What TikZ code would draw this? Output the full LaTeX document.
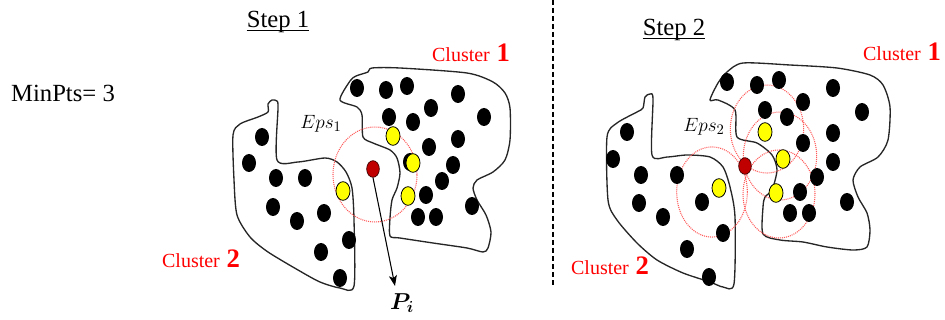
\documentclass[tikz,border=0pt]{standalone}
\usepackage{amsmath,bm}
\usepackage{fontspec}
\setmainfont{Liberation Serif}
\usetikzlibrary{shapes.geometric,arrows.meta}
\definecolor{darkred}{RGB}{192,0,0}
\definecolor{dotyellow}{RGB}{255,255,0}
\definecolor{labred}{RGB}{255,0,0}
\begin{document}
\begin{tikzpicture}[x=0.75pt,y=-0.75pt,
  bdot/.style={ellipse, fill=black, inner sep=0pt, minimum width=10.5pt, minimum height=13.5pt},
  ydot/.style={ellipse, fill=dotyellow, draw=black, line width=0.6pt, inner sep=0pt, minimum width=10.5pt, minimum height=14pt},
  rdot/.style={ellipse, fill=darkred, draw=black!70!darkred, line width=0.5pt, inner sep=0pt, minimum width=9.5pt, minimum height=12.5pt},
  outline/.style={line width=1pt, black!85, smooth cycle, tension=0.45},
  epscirc/.style={draw=red!65, line width=0.8pt, dash pattern=on 0.75pt off 0.75pt},
  steplbl/.style={font=\fontsize{18.5}{20}\selectfont},
  clab/.style={text=labred, font=\fontsize{15}{17}\selectfont},
  epslbl/.style={font=\fontsize{15.5}{17}\selectfont},
  uline/.style={line width=0.8pt}
]
\useasboundingbox (0,0) rectangle (945,320);

% texts
\node[steplbl] (minpts) at (63,93) {MinPts= 3};
\node[steplbl, inner sep=0pt] (step1) at (278,22) {Step 1};
\draw[uline] ([yshift=-2.2pt]step1.base west) -- ([yshift=-2.2pt]step1.base east);
\node[steplbl, inner sep=0pt] (step2) at (674,30) {Step 2};
\draw[uline] ([yshift=-2.2pt]step2.base west) -- ([yshift=-2.2pt]step2.base east);
\node[clab] (c1a) at (471,53) {Cluster\,\,{\bfseries\fontsize{20}{20}\selectfont 1}};
\node[clab] (c2a) at (201,259) {Cluster\,\,{\bfseries\fontsize{20}{20}\selectfont 2}};
\node[clab] (c1b) at (902,52) {Cluster\,\,{\bfseries\fontsize{20}{20}\selectfont 1}};
\node[clab] (c2b) at (610,266) {Cluster\,\,{\bfseries\fontsize{20}{20}\selectfont 2}};
\node[epslbl] (eps1) at (321,124) {$Eps_1$};
\node[epslbl] (eps2) at (704,127) {$Eps_2$};
\node[font=\fontsize{17}{18}\selectfont] (pil) at (402,303) {$\bm{P_i}$};

% dashed separator
\coordinate (dtop) at (553,0);
\coordinate (dbot) at (553,287);
\draw[line width=0.8pt, dash pattern=on 3.5pt off 2.5pt] (dtop) -- (dbot);

% step 1 outlines
\draw[outline] plot coordinates {(233,135) (240,124) (258,117) (268,112) (268,104) (272,100) (277,101) (278,108) (277,160) (298,162) (325,158) (337,162) (346,172) (352,188) (354,220) (354,286) (340,288) (320,282) (298,270) (268,252) (250,237) (237,215) (234,180)};
\draw[outline] plot coordinates {(340,100) (350,81) (356,76) (368,72) (372,68) (400,68) (467,73) (493,82) (505,93) (510,108) (510,140) (505,160) (493,172) (477,180) (473,188) (477,200) (486,215) (491,232) (488,248) (483,252) (467,248) (433,243) (400,238) (390,236) (390,218) (392,200) (397,188) (400,173) (397,158) (390,150) (373,143) (363,137) (362,115) (357,107)};

% step 2 outlines
\draw[outline] plot coordinates {(607,137) (617,123) (637,112) (643,108) (645,97) (650,94) (653,99) (652,155) (667,157) (687,155) (710,157) (723,167) (730,187) (735,217) (734,284) (723,287) (710,282) (683,273) (657,260) (637,243) (617,220) (608,200)};
\draw[outline] plot coordinates {(710,100) (718,83) (727,72) (743,63) (790,65) (837,68) (870,75) (883,85) (890,107) (888,140) (878,157) (860,167) (853,180) (858,197) (867,213) (870,230) (867,247) (853,250) (827,247) (803,242) (780,240) (763,234) (763,207) (765,197) (772,190) (777,170) (772,155) (757,143) (737,137) (735,110) (718,100)};

% eps circles
\draw[epscirc] (375,174.5) ellipse [x radius=31.5pt, y radius=35.6pt];
\draw[epscirc] (712,192) ellipse [x radius=26.5pt, y radius=33.8pt];
\draw[epscirc] (767,129) ellipse [x radius=27.5pt, y radius=33pt];
\draw[epscirc] (780,156) ellipse [x radius=27.5pt, y radius=33pt];
\draw[epscirc] (779,194) ellipse [x radius=27pt, y radius=33pt];

% step 1 dots
\foreach [count=\i] \p in {(357,88),(386,90),(407,86),(458,94),(431,108),(389,117),(413,122),(484,117),(458,139),(429,147),(453,165),(442,181),(426,195),(418,217),(436,217),(472,206),(410,162)}
  \node[bdot] (la\i) at \p {};
\foreach [count=\i] \p in {(262,137),(249,163),(276,178),(305,178),(273,207),(297,221),(324,213),(349,240),(321,252),(340,278)}
  \node[bdot] (lb\i) at \p {};
\foreach [count=\i] \p in {(393,136),(413,163),(408,196),(343,191)}
  \node[ydot] (ly\i) at \p {};

% step 2 dots
\foreach [count=\i] \p in {(727,82),(757,85),(779,80),(833,88),(803,102),(765,110),(787,117),(862,112),(803,143),(833,133),(833,162),(817,177),(800,192),(790,213),(809,213),(847,202)}
  \node[bdot] (ra\i) at \p {};
\foreach [count=\i] \p in {(627,132),(613,159),(641,175),(677,175),(639,203),(663,217),(702,202),(723,233),(687,249),(709,277)}
  \node[bdot] (rb\i) at \p {};
\foreach [count=\i] \p in {(765,132),(783,159),(776,193),(719,188)}
  \node[ydot] (ry\i) at \p {};
\node[rdot] (r2) at (745,166) {};

% arrow to P_i
\coordinate (pa) at (395,286);
\node[rdot] (r1) at (373,169) {};
\draw[line width=0.8pt, -{Stealth[length=8pt,width=6pt,inset=2pt]}] (r1.south) -- (pa);
\end{tikzpicture}
\end{document}
